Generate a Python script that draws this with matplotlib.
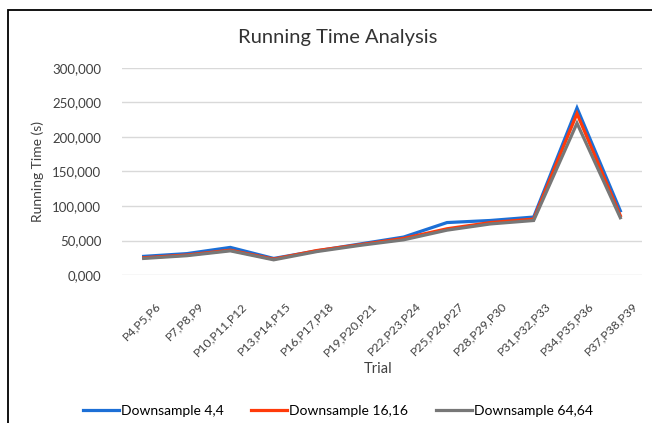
import matplotlib
matplotlib.use("Agg")
import matplotlib.pyplot as plt
from matplotlib.patches import Rectangle
from matplotlib.transforms import ScaledTranslation

plt.rcParams['font.family'] = ['Lato', 'DejaVu Sans']

categories = ["P4,P5,P6", "P7,P8,P9", "P10,P11,P12", "P13,P14,P15", "P16,P17,P18",
              "P19,P20,P21", "P22,P23,P24", "P25,P26,P27", "P28,P29,P30",
              "P31,P32,P33", "P34,P35,P36", "P37,P38,P39"]
ds_4 = [27000, 31000, 40000, 24000, 35000, 45000, 55000, 76000, 79000, 84000, 242000, 93000]
ds_16 = [25000, 29000, 36000, 23000, 35500, 44000, 53000, 67000, 76000, 81000, 234000, 86000]
ds_64 = [24000, 28000, 35000, 22000, 34000, 43000, 51000, 65000, 74000, 79000, 220000, 83000]
series_names = ["Downsample 4,4", "Downsample 16,16", "Downsample 64,64"]
y_ticks = [0, 50000, 100000, 150000, 200000, 250000, 300000]
y_tick_labels = ["0,000", "50,000", "100,000", "150,000", "200,000", "250,000", "300,000"]

W, H = 652, 423
fig = plt.figure(figsize=(W / 100, H / 100), dpi=100)
fig.patch.set_facecolor("white")

# chart border (top and left visible)
fig.add_artist(Rectangle((8 / W, -0.1), 1.2, 1 - 10 / H + 0.1, transform=fig.transFigure,
                         fill=False, edgecolor="black", linewidth=1.3))

ax = fig.add_axes([122 / W, 1 - 275 / H, (642 - 122) / W, (275 - 68) / H])
x = list(range(len(categories)))
colors = ["#1C6FD6", "#FF3A0A", "#777777"]
for vals, c, name in zip([ds_4, ds_16, ds_64], colors, series_names):
    ax.plot(x, vals, color=c, linewidth=2.3, label=name, solid_joinstyle="miter")

ax.set_xlim(-0.5, len(categories) - 0.5)
ax.set_ylim(0, 300000)
ax.set_yticks(y_ticks)
ax.set_yticklabels(y_tick_labels, fontsize=9.5, color="#404040")
ax.yaxis.grid(True, color="#D9D9D9", linewidth=1)
ax.set_axisbelow(True)
for s in ax.spines.values():
    s.set_visible(False)
ax.tick_params(axis="both", length=0)
ax.tick_params(axis="y", pad=15)

ax.set_xticks(x)
ax.set_xticklabels(categories, rotation=45, ha="right", va="center",
                   rotation_mode="anchor", fontsize=8.8, color="#404040")
ax.tick_params(axis="x", pad=21)
off = ScaledTranslation(15 / 100, 0, fig.dpi_scale_trans)
for lab in ax.get_xticklabels():
    lab.set_transform(lab.get_transform() + off)

ax.set_ylabel("Running Time (s)", fontsize=10, color="#404040", labelpad=6)
fig.text(378 / W, 1 - 369 / H, "Trial", ha="center", va="center", fontsize=10.5,
         color="#404040")
fig.text(338 / W, 1 - 37 / H, "Running Time Analysis", ha="center", va="center",
         fontsize=14.5, color="#333333")

fig.legend(loc="center", bbox_to_anchor=(338 / W, 1 - 411 / H), ncol=3, frameon=False,
           fontsize=10, handlelength=2.6, handletextpad=0.15, columnspacing=2.0)

fig.savefig("out.png", dpi=100)
